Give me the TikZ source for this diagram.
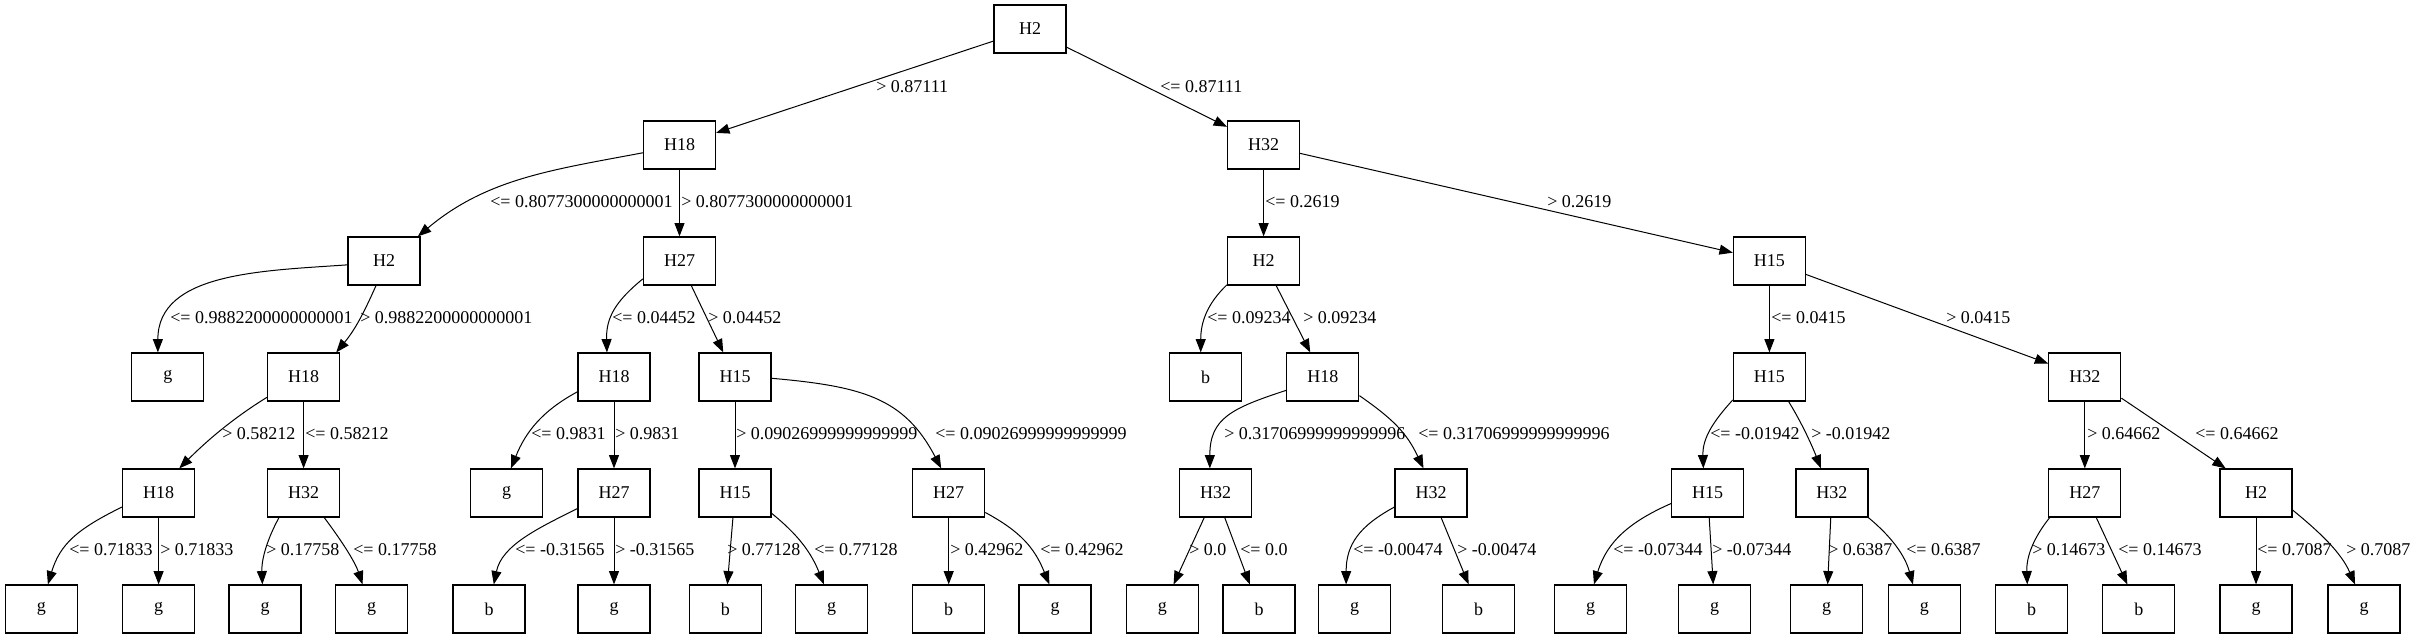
\documentclass[tikz,border=0pt]{standalone}
\usepackage{fontspec}
\setmainfont{Liberation Serif}
\usetikzlibrary{arrows.meta}
\begin{document}
\begin{tikzpicture}[x=0.75pt,y=-0.75pt,
  box/.style={draw, line width=0.9pt, minimum width=54pt, minimum height=36pt, inner sep=0pt, font=\fontsize{13.5}{16}\selectfont},
  lbl/.style={anchor=west, inner sep=0pt, font=\fontsize{13.5}{16}\selectfont},
  edge/.style={line width=0.75pt, -{Triangle[length=10pt,width=7.5pt]}}]
\useasboundingbox (0,0) rectangle (2419,639);
% level 0
\node[box] (r) at (1030,29) {H2};
% level 1
\node[box] (a1) at (679.5,145) {H18};
\node[box] (a2) at (1263.6,145) {H32};
% level 2
\node[box] (b1) at (384,261) {H2};
\node[box] (b2) at (679.5,261) {H27};
\node[box] (b3) at (1263.6,261) {H2};
\node[box] (b4) at (1769.4,261) {H15};
% level 3
\node[box] (c1) at (167.8,377) {g};
\node[box] (c2) at (303.6,377) {H18};
\node[box] (c3) at (614,377) {H18};
\node[box] (c4) at (735,377) {H15};
\node[box] (c5) at (1205.5,377) {b};
\node[box] (c6) at (1322.8,377) {H18};
\node[box] (c7) at (1769.4,377) {H15};
\node[box] (c8) at (2084.8,377) {H32};
% level 4
\node[box] (d1) at (158.6,493) {H18};
\node[box] (d2) at (303.6,493) {H32};
\node[box] (d3) at (506.6,493) {g};
\node[box] (d4) at (614,493) {H27};
\node[box] (d5) at (735,493) {H15};
\node[box] (d6) at (948.7,493) {H27};
\node[box] (d7) at (1215.5,493) {H32};
\node[box] (d8) at (1431,493) {H32};
\node[box] (d9) at (1707.7,493) {H15};
\node[box] (d10) at (1831.9,493) {H32};
\node[box] (d11) at (2084.8,493) {H27};
\node[box] (d12) at (2256,493) {H2};
% level 5
\node[box] (e1) at (41.3,609) {g};
\node[box] (e2) at (158.6,609) {g};
\node[box] (e3) at (265,609) {g};
\node[box] (e4) at (371.5,609) {g};
\node[box] (e5) at (489,609) {b};
\node[box] (e6) at (614,609) {g};
\node[box] (e7) at (725.3,609) {b};
\node[box] (e8) at (831.5,609) {g};
\node[box] (e9) at (948.7,609) {b};
\node[box] (e10) at (1055,609) {g};
\node[box] (e11) at (1162.3,609) {g};
\node[box] (e12) at (1259,609) {b};
\node[box] (e13) at (1354.6,609) {g};
\node[box] (e14) at (1478.7,609) {b};
\node[box] (e15) at (1590.5,609) {g};
\node[box] (e16) at (1714.7,609) {g};
\node[box] (e17) at (1826.5,609) {g};
\node[box] (e18) at (1924.4,609) {g};
\node[box] (e19) at (2031.6,609) {b};
\node[box] (e20) at (2138.8,609) {b};
\node[box] (e21) at (2256,609) {g};
\node[box] (e22) at (2364,609) {g};

% edges level 0-1
\draw[edge] (r) -- (a1);
\draw[edge] (r) -- (a2);
% level 1-2
\draw[edge] (a1.192) .. controls +(-90,17) and +(69,-58) .. (b1.36);
\draw[edge] (a1) -- (b2);
\draw[edge] (a2) -- (b3);
\draw[edge] (a2) -- (b4);
% level 2-3
\draw[edge] (b1.186) .. controls +(-85,6) and +(0,-80) .. (c1.112);
\draw[edge] (b1.252) .. controls +(-12,27) and +(19,-23) .. (c2.37);
\draw[edge] (b2.206) .. controls +(-27,22) and +(-1,-35) .. (c3.106);
\draw[edge] (b2) -- (c4);
\draw[edge] (b3.213) .. controls +(-20,19) and +(0,-30) .. (c5.101);
\draw[edge] (b3) -- (c6);
\draw[edge] (b4) -- (c7);
\draw[edge] (b4) -- (c8);
% level 3-4
\draw[edge] (c2.209) .. controls +(-34,21) and +(28,-28) .. (d1.50);
\draw[edge] (c2) -- (d2);
\draw[edge] (c3.202) .. controls +(-35,19) and +(15,-37) .. (d3.80);
\draw[edge] (c3) -- (d4);
\draw[edge] (c4) -- (d5);
\draw[edge] (c4.358) .. controls +(90,8) and +(-37,-71) .. (d6.107);
\draw[edge] (c6.200) .. controls +(-55,18) and +(0,-50) .. (d7.103);
\draw[edge] (c6.333) .. controls +(33,23) and +(-17,-36) .. (d8.107);
\draw[edge] (c7.212) .. controls +(-20,22) and +(-1,-30) .. (d9.100);
\draw[edge] (c7.308) .. controls +(13,21) and +(-9,-23) .. (d10.114);
\draw[edge] (c8) -- (d11);
\draw[edge] (c8.330) -- (d12.141);
% level 4-5
\draw[edge] (d1.201) .. controls +(-45,22) and +(12,-40) .. (e1.75);
\draw[edge] (d1) -- (e2);
\draw[edge] (d2.225) .. controls +(-12,22) and +(-1,-25) .. (e3.96);
\draw[edge] (d2.310) .. controls +(15,20) and +(-8,-24) .. (e4.110);
\draw[edge] (d4.203) .. controls +(-40,20) and +(8,-39) .. (e5.79);
\draw[edge] (d4) -- (e6);
\draw[edge] (d5) -- (e7);
\draw[edge] (d5.331) .. controls +(27,22) and +(-13,-32) .. (e8.107);
\draw[edge] (d6) -- (e9);
\draw[edge] (d6.332) .. controls +(35,19) and +(-15,-37) .. (e10.103);
\draw[edge] (d7) -- (e11);
\draw[edge] (d7) -- (e12);
\draw[edge] (d8.201) .. controls +(-35,19) and +(0,-40) .. (e13.109);
\draw[edge] (d8) -- (e14);
\draw[edge] (d9.196) .. controls +(-41,18) and +(13,-43) .. (e15.82);
\draw[edge] (d9) -- (e16);
\draw[edge] (d10) -- (e17);
\draw[edge] (d10.326) .. controls +(23,19) and +(-8,-29) .. (e18.115);
\draw[edge] (d11.215) .. controls +(-16,20) and +(-1,-28) .. (e19.100);
\draw[edge] (d11) -- (e20);
\draw[edge] (d12) -- (e21);
\draw[edge] (d12.335) .. controls +(27,22) and +(-14,-32) .. (e22.110);

% labels level 0-1
\node[lbl] (l01) at (876,87) {> 0.87111};
\node[lbl] (l02) at (1160,87) {<= 0.87111};
% labels level 1-2
\node[lbl] (l11) at (490,202) {<= 0.8077300000000001};
\node[lbl] (l12) at (681,202) {> 0.8077300000000001};
\node[lbl] (l13) at (1265,202) {<= 0.2619};
\node[lbl] (l14) at (1547,202) {> 0.2619};
% labels level 2-3
\node[lbl] (l21) at (170,318) {<= 0.9882200000000001};
\node[lbl] (l22) at (360,318) {> 0.9882200000000001};
\node[lbl] (l23) at (612,318) {<= 0.04452};
\node[lbl] (l24) at (708,318) {> 0.04452};
\node[lbl] (l25) at (1207,318) {<= 0.09234};
\node[lbl] (l26) at (1303,318) {> 0.09234};
\node[lbl] (l27) at (1771,318) {<= 0.0415};
\node[lbl] (l28) at (1946,318) {> 0.0415};
% labels level 3-4
\node[lbl] (l31) at (222,434) {> 0.58212};
\node[lbl] (l32) at (305,434) {<= 0.58212};
\node[lbl] (l33) at (531,434) {<= 0.9831};
\node[lbl] (l34) at (615,434) {> 0.9831};
\node[lbl] (l35) at (736,434) {> 0.09026999999999999};
\node[lbl] (l36) at (935,434) {<= 0.09026999999999999};
\node[lbl] (l37) at (1224,434) {> 0.31706999999999996};
\node[lbl] (l38) at (1418,434) {<= 0.31706999999999996};
\node[lbl] (l39) at (1710,434) {<= -0.01942};
\node[lbl] (l3a) at (1811,434) {> -0.01942};
\node[lbl] (l3b) at (2087,434) {> 0.64662};
\node[lbl] (l3c) at (2195,434) {<= 0.64662};
% labels level 4-5
\node[lbl] (l41) at (69,550) {<= 0.71833};
\node[lbl] (l42) at (160,550) {> 0.71833};
\node[lbl] (l43) at (266,550) {> 0.17758};
\node[lbl] (l44) at (353,550) {<= 0.17758};
\node[lbl] (l45) at (515,550) {<= -0.31565};
\node[lbl] (l46) at (615,550) {> -0.31565};
\node[lbl] (l47) at (727,550) {> 0.77128};
\node[lbl] (l48) at (814,550) {<= 0.77128};
\node[lbl] (l49) at (950,550) {> 0.42962};
\node[lbl] (l4a) at (1040,550) {<= 0.42962};
\node[lbl] (l4b) at (1189,550) {> 0.0};
\node[lbl] (l4c) at (1240,550) {<= 0.0};
\node[lbl] (l4d) at (1353,550) {<= -0.00474};
\node[lbl] (l4e) at (1457,550) {> -0.00474};
\node[lbl] (l4f) at (1613,550) {<= -0.07344};
\node[lbl] (l4g) at (1712,550) {> -0.07344};
\node[lbl] (l4h) at (1828,550) {> 0.6387};
\node[lbl] (l4i) at (1906,550) {<= 0.6387};
\node[lbl] (l4j) at (2032,550) {> 0.14673};
\node[lbl] (l4k) at (2118,550) {<= 0.14673};
\node[lbl] (l4l) at (2257,550) {<= 0.7087};
\node[lbl] (l4m) at (2346,550) {> 0.7087};
\end{tikzpicture}
\end{document}
